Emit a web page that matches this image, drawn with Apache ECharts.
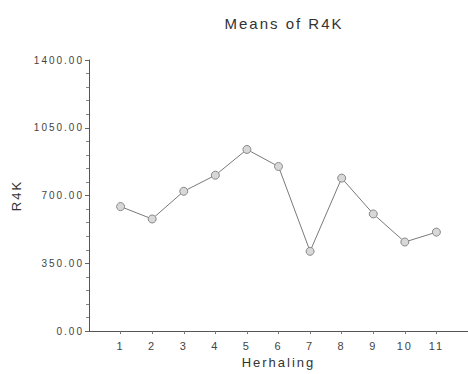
<!DOCTYPE html>
<html>
<head>
<meta charset="utf-8">
<script src="https://cdn.jsdelivr.net/npm/echarts@6/dist/echarts.min.js"></script>
<style>
  html, body { margin: 0; padding: 0; background: #fff; }
  #chart { width: 468px; height: 374px; }
  /* wide, evenly tracked lettering for every label */
  #chart svg text { letter-spacing: 2px; }
</style>
</head>
<body>
<div id="chart"></div>
<script>
// Repetition numbers along the x axis
const herhaling = [1, 2, 3, 4, 5, 6, 7, 8, 9, 10, 11];
// Mean R4K per repetition
const r4kMeans = [643, 579, 722, 805, 938, 850, 412, 790, 605, 460, 511];
// Y axis tick values
const yTicks = [0, 350, 700, 1050, 1400];

const chart = echarts.init(document.getElementById('chart'), null, { renderer: 'svg' });
const font = 'Liberation Sans, Arial, sans-serif';

chart.setOption({
  backgroundColor: '#ffffff',
  animation: false,
  title: {
    text: 'Means of R4K',
    left: 279,
    top: 11,
    textAlign: 'center',
    textStyle: { fontFamily: font, fontSize: 15, fontWeight: 'normal', color: '#333' }
  },
  grid: { left: 89, right: -3, top: 60, bottom: 41, containLabel: false },
  xAxis: {
    type: 'value',
    min: 0,
    max: 12,
    interval: 1,
    name: 'Herhaling',
    nameLocation: 'middle',
    nameGap: 23,
    nameTextStyle: { fontFamily: font, fontSize: 13, color: '#333' },
    axisLine: { lineStyle: { color: '#555', width: 1 } },
    axisTick: { show: true, length: 3, lineStyle: { color: '#777' }, customValues: herhaling },
    axisLabel: { fontFamily: font, fontSize: 11, color: '#444', margin: 9, customValues: herhaling },
    splitLine: { show: false }
  },
  yAxis: {
    type: 'value',
    min: yTicks[0],
    max: yTicks[yTicks.length - 1],
    interval: yTicks[1] - yTicks[0],
    name: 'R4K',
    nameLocation: 'middle',
    nameGap: 66,
    nameRotate: 90,
    nameTextStyle: { fontFamily: font, fontSize: 13, color: '#333' },
    axisLine: { show: true, lineStyle: { color: '#555', width: 1 } },
    axisTick: { show: true, length: 4, lineStyle: { color: '#666' } },
    minorTick: { show: true, splitNumber: 5, length: 3, lineStyle: { color: '#888' } },
    axisLabel: {
      fontFamily: font, fontSize: 10, color: '#444', margin: 5,
      formatter: v => v.toFixed(2)
    },
    splitLine: { show: false }
  },
  series: [{
    type: 'line',
    data: herhaling.map((x, i) => [x, r4kMeans[i]]),
    symbol: 'circle',
    symbolSize: 8,
    lineStyle: { color: '#7a7a7a', width: 1 },
    itemStyle: { color: '#d8d8d8', borderColor: '#888', borderWidth: 1 }
  }]
});
</script>
</body>
</html>
